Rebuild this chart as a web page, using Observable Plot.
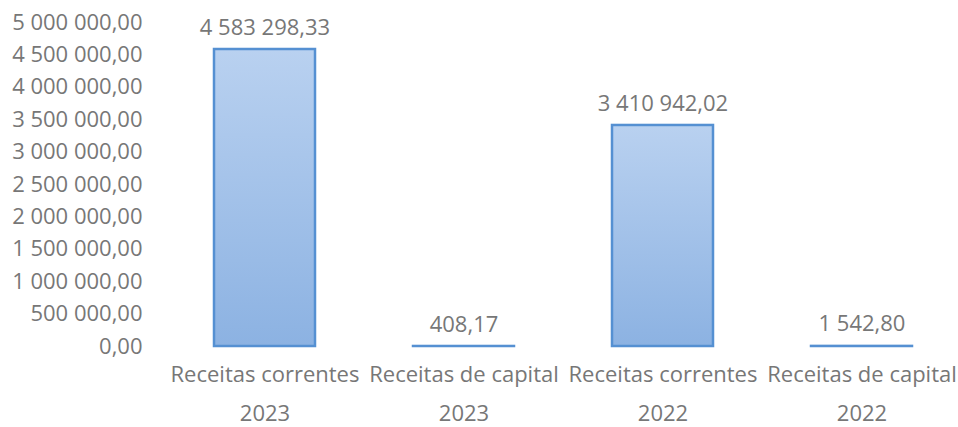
<!DOCTYPE html>
<html>
<head>
<meta charset="utf-8">
<script src="https://cdn.jsdelivr.net/npm/d3@7"></script>
<script src="https://cdn.jsdelivr.net/npm/@observablehq/plot@0.6"></script>
<style>
  html, body { margin: 0; padding: 0; background: #fff; }
</style>
</head>
<body>
<div id="chart"></div>
<script>
const categories = ["Receitas correntes", "Receitas de capital", "Receitas correntes", "Receitas de capital"];
const years = ["2023", "2023", "2022", "2022"];
const values = [4583298.33, 408.17, 3410942.02, 1542.80];
const yTicks = [0, 500000, 1000000, 1500000, 2000000, 2500000, 3000000, 3500000, 4000000, 4500000, 5000000];

const data = values.map((v, i) => ({i, category: categories[i], year: years[i], value: v}));

const locale = d3.formatLocale({decimal: ",", thousands: "\u00a0", grouping: [3], currency: ["", ""]});
const fmt = locale.format(",.2f");

const textColor = "#777777";
const font = "'Open Sans', sans-serif";

const defs = () => {
  const d = d3.create("svg:defs");
  const g = d.append("linearGradient").attr("id", "barGrad").attr("x1", 0).attr("y1", 0).attr("x2", 0).attr("y2", 1);
  g.append("stop").attr("offset", "0%").attr("stop-color", "#b9d1f0");
  g.append("stop").attr("offset", "100%").attr("stop-color", "#8cb2e2");
  return d.node();
};

const chart = Plot.plot({
  width: 958,
  height: 427,
  marginLeft: 165,
  marginRight: 0,
  marginTop: 22,
  marginBottom: 81,
  style: {fontFamily: font, fontSize: "22px", color: textColor, background: "#fff"},
  x: {domain: d3.range(values.length), range: [165.5, 961.5], paddingInner: 0.49, paddingOuter: 0.245, axis: null},
  y: {domain: [0, 5000000], axis: null},
  marks: [
    defs,
    Plot.barY(data, {x: "i", y: "value", fill: "url(#barGrad)", stroke: "#5590d2", strokeWidth: 2.5}),
    Plot.text(data, {x: "i", y: "value", text: d => fmt(d.value), dy: -22, fill: textColor}),
    Plot.axisY({ticks: yTicks, tickSize: 0, tickPadding: 23, tickFormat: fmt, fill: textColor, label: null}),
    Plot.axisX({tickSize: 0, tickPadding: 20, tickFormat: i => categories[i], fill: textColor, label: null}),
    Plot.axisX({tickSize: 0, tickPadding: 59, tickFormat: i => years[i], fill: textColor, label: null})
  ]
});
chart.style.overflow = "visible";
document.getElementById("chart").appendChild(chart);
</script>
</body>
</html>
